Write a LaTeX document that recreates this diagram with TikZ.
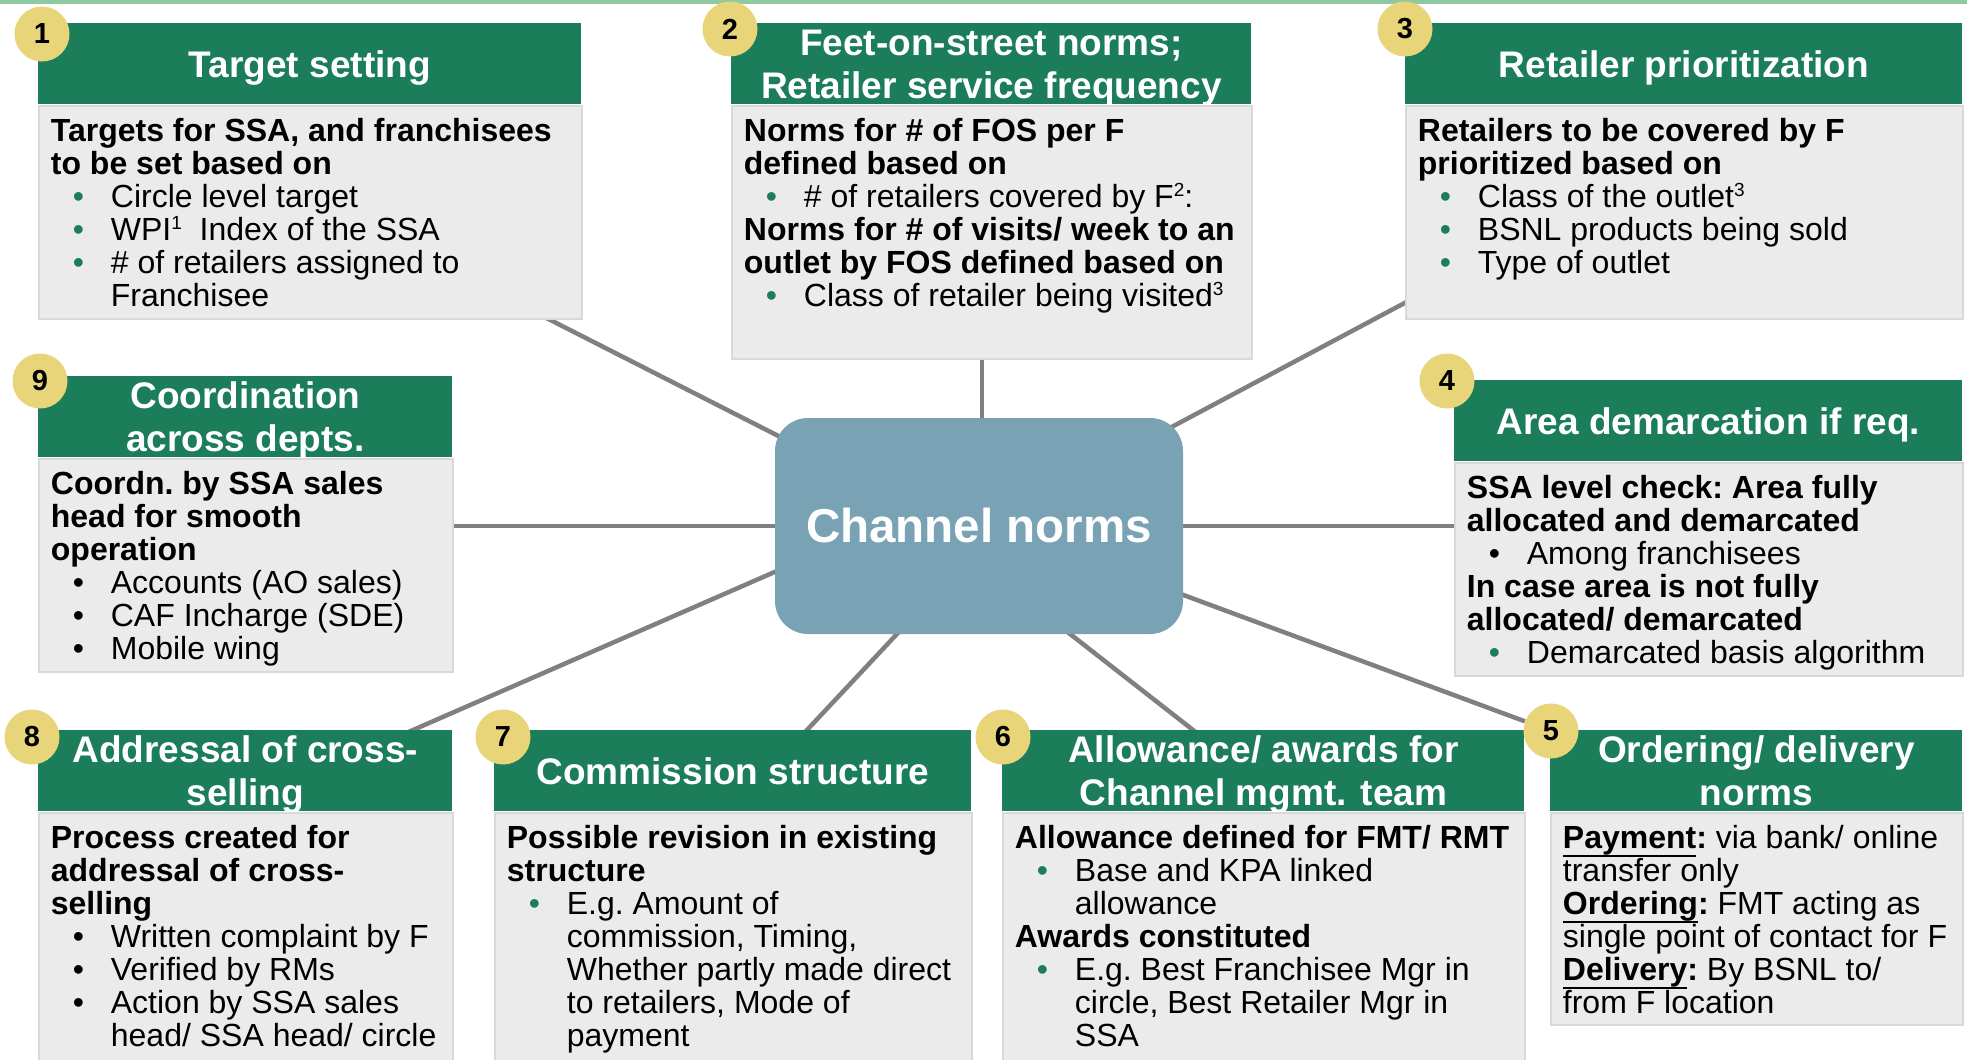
\documentclass[tikz,border=0pt]{standalone}
\usepackage{fontspec}
\setmainfont{Liberation Sans}
\usetikzlibrary{calc,backgrounds}
\definecolor{hgreen}{RGB}{27,125,89}
\definecolor{bgray}{RGB}{235,235,235}
\definecolor{bborder}{RGB}{217,217,217}
\definecolor{byellow}{RGB}{232,212,121}
\definecolor{cblue}{RGB}{121,163,180}
\definecolor{cgray}{RGB}{128,128,128}
\definecolor{topgreen}{RGB}{143,201,162}
\newcommand\gb{\makebox[30pt][l]{\hspace*{13.75pt}\makebox[0pt]{\textcolor{hgreen}{•}}}}
\newcommand\kb{\makebox[30pt][l]{\hspace*{13.75pt}\makebox[0pt]{•}}}
\newcommand\ind{\hspace*{30pt}}
\newcommand\sups[1]{\raisebox{5.5pt}{\fontsize{9.5pt}{9.5pt}\selectfont #1}}
\newcommand\ulb[1]{\leavevmode\setbox0\hbox{\bfseries #1}\rlap{\rule[-4pt]{\wd0}{1pt}}\box0}
\newcommand\bodytext[1]{\begin{minipage}[t]{270pt}\frenchspacing\fontsize{16pt}{16.5pt}\selectfont #1\end{minipage}}
\tikzset{
  hdr/.style={fill=hgreen, text=white, inner sep=0pt, align=center, text depth=0pt,
    font=\bfseries\fontsize{18.5pt}{21.5pt}\selectfont, anchor=north west, minimum height=40.5pt},
  bodyb/.style={fill=bgray, draw=bborder, line width=1pt, inner sep=0pt, anchor=north west},
  btxt/.style={inner sep=0pt, anchor=base west},
  badge/.style={circle, fill=byellow, inner sep=0pt, minimum size=27.5pt,
    font=\bfseries\fontsize{14.5pt}{14.5pt}\selectfont},
  conn/.style={draw=cgray, line width=2.25pt, shorten <=-6pt, shorten >=-6pt},
  hub/.style={rounded corners=16.5pt, fill=cblue, text=white, inner sep=0pt,
    minimum width=204pt, minimum height=108pt, font=\bfseries\fontsize{23.75pt}{28pt}\selectfont}
}
\begin{document}
\begin{tikzpicture}[x=0.5pt,y=-0.5pt]
\useasboundingbox (0,0) rectangle (1967,1060);
\fill[topgreen] (0,0) rectangle (1967,3.5);

% hub
\node[hub] (hub) at (979,526) {Channel norms};

% panel 1
\node[hdr, minimum width=271.5pt] (h1) at (38,23) {Target setting};
\node[bodyb, minimum width=271.5pt, minimum height=106.5pt] (b1) at (h1.south west) {};
\node[btxt] (t1) at ($(b1.north west)+(12.5,37)$) {\bodytext{%
{\bfseries Targets for SSA, and franchisees\\to be set based on}\\
\gb Circle level target\\
\gb WPI\sups{1}\ \ Index of the SSA\\
\gb \# of retailers assigned to\\
\ind Franchisee}};

% panel 2
\node[hdr, minimum width=260pt] (h2) at (731,23) {Feet-on-street norms;\\Retailer service frequency};
\node[bodyb, minimum width=260pt, minimum height=126.5pt] (b2) at (h2.south west) {};
\node[btxt] (t2) at ($(b2.north west)+(12.5,37)$) {\bodytext{%
{\bfseries Norms for \# of FOS per F\\defined based on}\\
\gb \# of retailers covered by F\sups{2}:\\
{\bfseries Norms for \# of visits/ week to an\\outlet by FOS defined based on}\\
\gb Class of retailer being visited\sups{3}}};

% panel 3
\node[hdr, minimum width=278.5pt] (h3) at (1405,23) {Retailer prioritization};
\node[bodyb, minimum width=278.5pt, minimum height=106.5pt] (b3) at (h3.south west) {};
\node[btxt] (t3) at ($(b3.north west)+(12.5,37)$) {\bodytext{%
{\bfseries Retailers to be covered by F\\prioritized based on}\\
\gb Class of the outlet\sups{3}\\
\gb BSNL products being sold\\
\gb Type of outlet}};

% panel 9
\node[hdr, minimum width=207pt] (h9) at (38,376) {Coordination\\across depts.};
\node[bodyb, minimum width=207pt, minimum height=106.5pt] (b9) at (h9.south west) {};
\node[btxt] (t9) at ($(b9.north west)+(12.5,37)$) {\bodytext{%
{\bfseries Coordn. by SSA sales\\head for smooth\\operation}\\
\kb Accounts (AO sales)\\
\kb CAF Incharge (SDE)\\
\kb Mobile wing}};

% panel 4
\node[hdr, minimum width=254pt] (h4) at (1454,380) {Area demarcation if req.};
\node[bodyb, minimum width=254pt, minimum height=106.5pt] (b4) at (h4.south west) {};
\node[btxt] (t4) at ($(b4.north west)+(12.5,37)$) {\bodytext{%
{\bfseries SSA level check: Area fully\\allocated and demarcated}\\
\kb Among franchisees\\
{\bfseries In case area is not fully\\allocated/ demarcated}\\
\gb Demarcated basis algorithm}};

% panel 8
\node[hdr, minimum width=207pt] (h8) at (38,730) {Addressal of cross-\\selling};
\node[bodyb, minimum width=207pt, minimum height=130pt] (b8) at (h8.south west) {};
\node[btxt] (t8) at ($(b8.north west)+(12.5,37)$) {\bodytext{%
{\bfseries Process created for\\addressal of cross-\\selling}\\
\kb Written complaint by F\\
\kb Verified by RMs\\
\kb Action by SSA sales\\
\ind head/ SSA head/ circle}};

% panel 7
\node[hdr, minimum width=238.5pt] (h7) at (494,730) {Commission structure};
\node[bodyb, minimum width=238.5pt, minimum height=130pt] (b7) at (h7.south west) {};
\node[btxt] (t7) at ($(b7.north west)+(12.5,37)$) {\bodytext{%
{\bfseries Possible revision in existing\\structure}\\
\gb E.g. Amount of\\
\ind commission, Timing,\\
\ind Whether partly made direct\\
\ind to retailers, Mode of\\
\ind payment}};

% panel 6
\node[hdr, minimum width=261pt] (h6) at (1002,730) {Allowance/ awards for\\Channel mgmt. team};
\node[bodyb, minimum width=261pt, minimum height=130pt] (b6) at (h6.south west) {};
\node[btxt] (t6) at ($(b6.north west)+(12.5,37)$) {\bodytext{%
{\bfseries Allowance defined for FMT/ RMT}\\
\gb Base and KPA linked\\
\ind allowance\\
{\bfseries Awards constituted}\\
\gb E.g. Best Franchisee Mgr in\\
\ind circle, Best Retailer Mgr in\\
\ind SSA}};

% panel 5
\node[hdr, minimum width=206pt] (h5) at (1550,730) {Ordering/ delivery\\norms};
\node[bodyb, minimum width=206pt, minimum height=106pt] (b5) at (h5.south west) {};
\node[btxt] (t5) at ($(b5.north west)+(12.5,37)$) {\bodytext{%
\ulb{Payment}\textbf{:} via bank/ online\\
transfer only\\
\ulb{Ordering}\textbf{:} FMT acting as\\
single point of contact for F\\
\ulb{Delivery}\textbf{:} By BSNL to/\\
from F location}};

% badges
\node[badge] (n1) at (42,34) {1};
\node[badge] (n2) at (730,29) {2};
\node[badge] (n3) at (1405,29) {3};
\node[badge] (n9) at (40,381) {9};
\node[badge] (n4) at (1447,381) {4};
\node[badge] (n8) at (32,737) {8};
\node[badge] (n7) at (503,737) {7};
\node[badge] (n6) at (1003,737) {6};
\node[badge] (n5) at (1551,731) {5};

% connectors
\begin{scope}[on background layer]
\coordinate (a1) at ($(b1.south west)+(512,0)$);
\coordinate (z1) at ($(hub.north west)+(5,19)$);
\coordinate (a3) at ($(b3.south west)+(0,-17)$);
\coordinate (z3) at ($(hub.north east)+(-11,9)$);
\coordinate (a8) at ($(h8.north west)+(375,0)$);
\coordinate (z8) at ($(hub.west)+(0,46)$);
\coordinate (a7) at ($(h7.north west)+(313,0)$);
\coordinate (z7) at ($(hub.south west)+(122,0)$);
\coordinate (a6) at ($(h6.north west)+(191,0)$);
\coordinate (z6) at ($(hub.south west)+(296,0)$);
\coordinate (z5) at ($(hub.east)+(0,69)$);
\coordinate (t2top) at ($(hub.north)+(3,0)$);
\draw[conn] (a1) -- (z1);
\draw[conn] (t2top) -- (t2top |- b2.south);
\draw[conn] (z3) -- (a3);
\draw[conn] (hub.west) -- (hub.west -| b9.east);
\draw[conn] (hub.east) -- (hub.east -| b4.west);
\draw[conn] (z8) -- (a8);
\draw[conn] (z7) -- (a7);
\draw[conn] (z6) -- (a6);
\draw[conn, shorten >=0pt] (z5) -- (n5);
\end{scope}
\end{tikzpicture}
\end{document}
